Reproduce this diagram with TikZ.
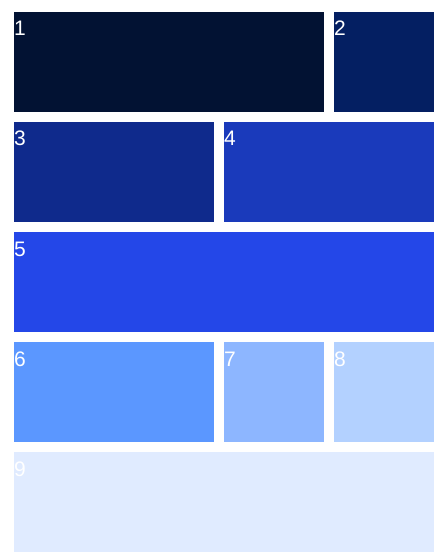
\documentclass[tikz,border=0pt]{standalone}
\usepackage{fontspec}
\setmainfont{Liberation Sans}
\definecolor{c1}{HTML}{021233}
\definecolor{c2}{HTML}{041F62}
\definecolor{c3}{HTML}{0F2A8C}
\definecolor{c4}{HTML}{1A3ABB}
\definecolor{c5}{HTML}{2447E8}
\definecolor{c6}{HTML}{5B97FF}
\definecolor{c7}{HTML}{8DB6FF}
\definecolor{c8}{HTML}{B3D1FF}
\definecolor{c9}{HTML}{E0EBFF}
\begin{document}
\begin{tikzpicture}[x=1pt,y=-1pt,
  cell/.style={draw=none,inner sep=0,outer sep=0,anchor=north west,minimum height=100pt},
  lbl/.style={inner sep=0,anchor=base west,text=white,font=\fontsize{21}{21}\selectfont}]
\useasboundingbox (0,0) rectangle (447,559);
\fill[white] (0,0) rectangle (447,559);
\node[cell,fill=c1,minimum width=310pt] (b1) at (14,12) {};
\node[cell,fill=c2,minimum width=100pt] (b2) at (334,12) {};
\node[cell,fill=c3,minimum width=200pt] (b3) at (14,122) {};
\node[cell,fill=c4,minimum width=210pt] (b4) at (224,122) {};
\node[cell,fill=c5,minimum width=420pt] (b5) at (14,232) {};
\node[cell,fill=c6,minimum width=200pt] (b6) at (14,342) {};
\node[cell,fill=c7,minimum width=100pt] (b7) at (224,342) {};
\node[cell,fill=c8,minimum width=100pt] (b8) at (334,342) {};
\node[cell,fill=c9,minimum width=420pt] (b9) at (14,452) {};
\foreach \i in {1,...,9}{
  \node[lbl] (t\i) at ([shift={(0pt,-24pt)}]b\i.north west) {\i};
}
\end{tikzpicture}
\end{document}
